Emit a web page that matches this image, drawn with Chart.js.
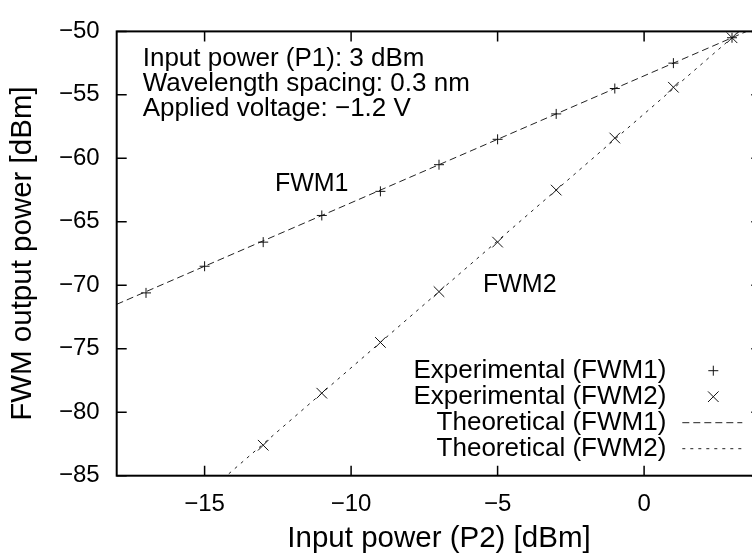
<!DOCTYPE html>
<html>
<head>
<meta charset="utf-8">
<script src="https://cdn.jsdelivr.net/npm/chart.js@4.4.1/dist/chart.umd.min.js"></script>
<style>
  html, body { margin: 0; padding: 0; background: #fff; overflow: hidden; }
  #wrap { width: 770px; height: 557px; }
</style>
</head>
<body>
<div id="wrap"><canvas id="grafica"></canvas></div>
<script>
// datos
const xExp1 = [-17, -15, -13, -11, -9, -7, -5, -3, -1, 1, 3];
const yExp1 = [-70.6, -68.5, -66.6, -64.5, -62.6, -60.5, -58.5, -56.5, -54.5, -52.5, -50.5];
const xExp2 = [-13, -11, -9, -7, -5, -3, -1, 1, 3];
const yExp2 = [-82.6, -78.5, -74.5, -70.5, -66.6, -62.5, -58.4, -54.4, -50.5];
const xTeo1 = [-18, 4];
const yTeo1 = [-71.5, -49.5];
const xTeo2 = [-15, 4];
const yTeo2 = [-86.5, -48.5];
const xTicks = [-15, -10, -5, 0];
const yTicks = [-85, -80, -75, -70, -65, -60, -55, -50];
const notas = ['Input power (P1): 3 dBm', 'Wavelength spacing: 0.3 nm', 'Applied voltage: \u22121.2 V'];
const etiquetas = ['Experimental (FWM1)', 'Experimental (FWM2)', 'Theoretical (FWM1)', 'Theoretical (FWM2)'];

const fuente = '"Liberation Sans", Arial, Helvetica, sans-serif';
const menos = v => String(v).replace('-', '\u2212');
const puntos = (xs, ys) => xs.map((x, i) => ({ x: x, y: ys[i] }));

// marco, ticks hacia dentro, textos y leyenda estilo gnuplot
const marco = {
    id: 'marco',
    afterDraw(chart) {
        const ctx = chart.ctx;
        const a = chart.chartArea;
        const sx = chart.scales.x, sy = chart.scales.y;
        ctx.save();
        ctx.strokeStyle = '#000';
        ctx.lineWidth = 1.5;
        ctx.beginPath();
        xTicks.forEach(v => {
            const px = sx.getPixelForValue(v);
            ctx.moveTo(px, a.bottom); ctx.lineTo(px, a.bottom - 10);
            ctx.moveTo(px, a.top); ctx.lineTo(px, a.top + 10);
        });
        yTicks.forEach(v => {
            const py = sy.getPixelForValue(v);
            ctx.moveTo(a.left, py); ctx.lineTo(a.left + 10, py);
            ctx.moveTo(a.right, py); ctx.lineTo(a.right - 10, py);
        });
        ctx.stroke();
        ctx.lineWidth = 2;
        ctx.strokeRect(a.left, a.top, a.right - a.left, a.bottom - a.top);

        ctx.fillStyle = '#000';
        ctx.textBaseline = 'middle';
        ctx.textAlign = 'left';
        ctx.font = '26px ' + fuente;
        notas.forEach((t, i) => ctx.fillText(t, a.left + 26, a.top + 27 + i * 25));
        ctx.font = '25px ' + fuente;
        ctx.fillText('FWM1', sx.getPixelForValue(-12.6), sy.getPixelForValue(-62));
        ctx.fillText('FWM2', sx.getPixelForValue(-5.5), sy.getPixelForValue(-70));

        // leyenda
        ctx.font = '26px ' + fuente;
        ctx.textAlign = 'right';
        chart.data.datasets.forEach((ds, i) => {
            const y = a.bottom - 105 + i * 26;
            ctx.fillText(etiquetas[i], a.right - 95, y);
            ctx.strokeStyle = ds.borderColor;
            ctx.lineWidth = 1;
            if (ds.showLine === false) {
                Chart.helpers.drawPoint(ctx, { pointStyle: ds.pointStyle, radius: ds.pointRadius, rotation: 0, borderWidth: 1 }, a.right - 48, y);
            } else {
                ctx.setLineDash(ds.borderDash);
                ctx.beginPath();
                ctx.moveTo(a.right - 79, y);
                ctx.lineTo(a.right - 19, y);
                ctx.stroke();
                ctx.setLineDash([]);
            }
        });
        ctx.restore();
    }
};

new Chart(document.getElementById('grafica'), {
    type: 'scatter',
    data: {
        datasets: [
            { data: puntos(xExp1, yExp1), showLine: false, pointStyle: 'cross', pointRadius: 5,
              borderColor: '#111', borderWidth: 1 },
            { data: puntos(xExp2, yExp2), showLine: false, pointStyle: 'crossRot', pointRadius: 7.5,
              borderColor: '#111', borderWidth: 1 },
            { data: puntos(xTeo1, yTeo1), showLine: true, pointRadius: 0, borderDash: [7, 4],
              borderColor: '#222', borderWidth: 1 },
            { data: puntos(xTeo2, yTeo2), showLine: true, pointRadius: 0, borderDash: [3, 5],
              borderColor: '#222', borderWidth: 1 }
        ]
    },
    options: {
        responsive: true,
        maintainAspectRatio: false,
        animation: false,
        layout: { padding: { top: 20.7, right: 8.7, left: 0, bottom: 0 } },
        plugins: { legend: { display: false }, tooltip: { enabled: false } },
        scales: {
            x: {
                type: 'linear', min: -18, max: 4,
                afterBuildTicks: s => { s.ticks = xTicks.map(v => ({ value: v })); },
                afterFit: s => { s.height = 81.3; },
                grid: { display: false, drawTicks: false },
                border: { display: false },
                ticks: { color: '#000', font: { family: fuente, size: 24 }, padding: 14, maxRotation: 0,
                         callback: v => menos(v) },
                title: { display: true, text: 'Input power (P2) [dBm]', color: '#000',
                         font: { family: fuente, size: 29.5 }, padding: { top: 0, bottom: 0 } }
            },
            y: {
                type: 'linear', min: -85, max: -50,
                afterBuildTicks: s => { s.ticks = yTicks.map(v => ({ value: v })); },
                afterFit: s => { s.width = 116.7; },
                grid: { display: false, drawTicks: false },
                border: { display: false },
                ticks: { color: '#000', font: { family: fuente, size: 24 }, padding: 17,
                         callback: v => menos(v) },
                title: { display: true, text: 'FWM output power [dBm]', color: '#000',
                         font: { family: fuente, size: 29.5 }, padding: { top: 5, bottom: 0 } }
            }
        }
    },
    plugins: [marco]
});
</script>
</body>
</html>
